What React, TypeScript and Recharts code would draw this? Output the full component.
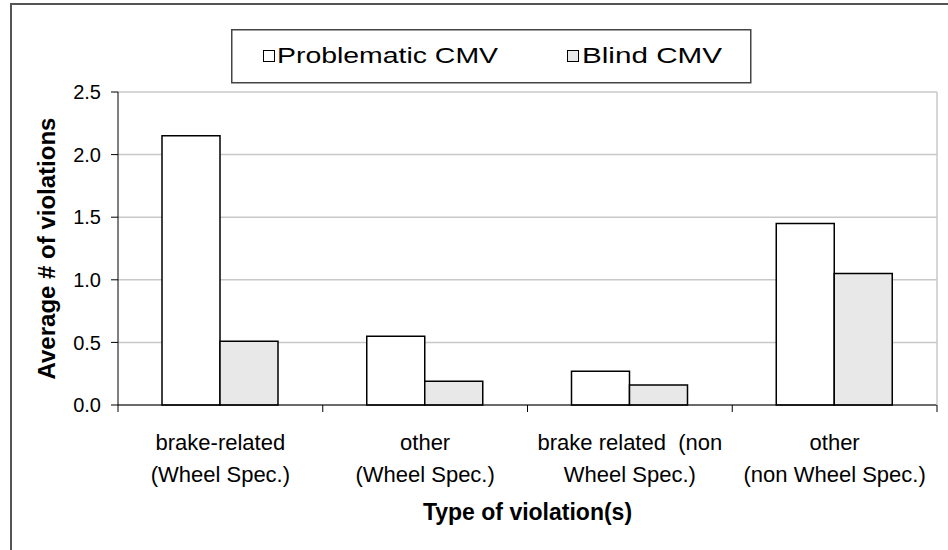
import { Bar, BarChart, CartesianGrid, Label, Legend, XAxis, YAxis } from "recharts"

const categories = [
  "brake-related\n(Wheel Spec.)",
  "other\n(Wheel Spec.)",
  "brake related  (non\nWheel Spec.)",
  "other\n(non Wheel Spec.)",
]
const problematic = [2.15, 0.55, 0.27, 1.45]
const blind = [0.51, 0.19, 0.16, 1.05]
const yTicks = [0, 0.5, 1, 1.5, 2, 2.5]
const seriesNames = ["Problematic CMV", "Blind CMV"]

const data = categories.map((name, i) => ({ name, problematic: problematic[i], blind: blind[i] }))

const font = '"Liberation Sans", Arial, sans-serif'

function CategoryTick(props: any) {
  const { x, y, payload, index } = props
  const half = payload.offset ?? 0
  const lines = String(payload.value).split("\n")
  return (
    <g>
      <line x1={x - half} x2={x - half} y1={y} y2={y + 7} stroke="#000" />
      {index === categories.length - 1 && (
        <line x1={x + half} x2={x + half} y1={y} y2={y + 7} stroke="#000" />
      )}
      <text x={x} y={y + 45} textAnchor="middle" fontSize={22} fontFamily={font} fill="#000" style={{ whiteSpace: "pre" }}>
        {lines.map((l, i) => (
          <tspan key={i} x={x} dy={i === 0 ? 0 : 32}>
            {l}
          </tspan>
        ))}
      </text>
    </g>
  )
}

function BoxLegend() {
  return (
    <svg width={521} height={55} style={{ display: "block" }}>
      <rect x={0.75} y={0.75} width={519} height={53} fill="#fff" stroke="#444" strokeWidth={1.5} />
      <rect x={32.5} y={21.5} width={11} height={11} fill="#fff" stroke="#000" />
      <text x={46} y={34} fontSize={22} fontFamily={font} textLength={221} lengthAdjust="spacingAndGlyphs">
        {seriesNames[0]}
      </text>
      <rect x={336.5} y={21.5} width={11} height={11} fill="#e8e8e8" stroke="#000" />
      <text x={351} y={34} fontSize={22} fontFamily={font} textLength={140} lengthAdjust="spacingAndGlyphs">
        {seriesNames[1]}
      </text>
    </svg>
  )
}

export default function App() {
  return (
    <div style={{ position: "absolute", left: 0, top: 0, width: 948, height: 550, overflow: "hidden", background: "#fff", fontFamily: font }}>
      <div style={{ position: "absolute", left: 10, top: 3, width: 960, height: 570, border: "2px solid #555" }} />
      <BarChart
        width={948}
        height={550}
        data={data}
        margin={{ top: 92, right: 10, left: 0, bottom: 0 }}
        barCategoryGap={44}
        barGap={0}
      >
        <CartesianGrid yAxisId="left" vertical={false} stroke="#c8c8c8" strokeWidth={1.5} />
        <XAxis
          dataKey="name"
          interval={0}
          height={145}
          tickLine={false}
          tickSize={0}
          tickMargin={0}
          tick={<CategoryTick />}
          axisLine={{ stroke: "#000" }}
        >
          <Label
            value="Type of violation(s)"
            position="insideBottom"
            offset={30}
            style={{ fontSize: 23, fontWeight: "bold", fill: "#000", fontFamily: font }}
          />
        </XAxis>
        <YAxis
          yAxisId="left"
          domain={[0, 2.5]}
          ticks={yTicks}
          width={118}
          tickSize={7}
          tickMargin={10}
          tickFormatter={(v) => Number(v).toFixed(1)}
          tick={{ fontSize: 20, fill: "#000", fontFamily: font }}
          axisLine={{ stroke: "#000" }}
          tickLine={{ stroke: "#000" }}
        >
          <Label
            value="Average # of violations"
            angle={-90}
            position="center"
            dx={-13}
            style={{ fontSize: 24, fontWeight: "bold", fill: "#000", fontFamily: font }}
          />
        </YAxis>
        <YAxis
          yAxisId="right"
          orientation="right"
          domain={[0, 2.5]}
          ticks={yTicks}
          tick={false}
          tickLine={false}
          width={1}
          axisLine={{ stroke: "#c8c8c8", strokeWidth: 1.5 }}
        />
        <Legend
          layout="horizontal"
          verticalAlign="middle"
          align="center"
          content={<BoxLegend />}
          wrapperStyle={{ position: "absolute", top: 29, left: 231, width: 521, height: 55 }}
        />
        <Bar yAxisId="left" dataKey="problematic" name={seriesNames[0]} fill="#fff" stroke="#000" strokeWidth={1.5} isAnimationActive={false} />
        <Bar yAxisId="left" dataKey="blind" name={seriesNames[1]} fill="#e8e8e8" stroke="#000" strokeWidth={1.5} isAnimationActive={false} />
      </BarChart>
    </div>
  )
}
